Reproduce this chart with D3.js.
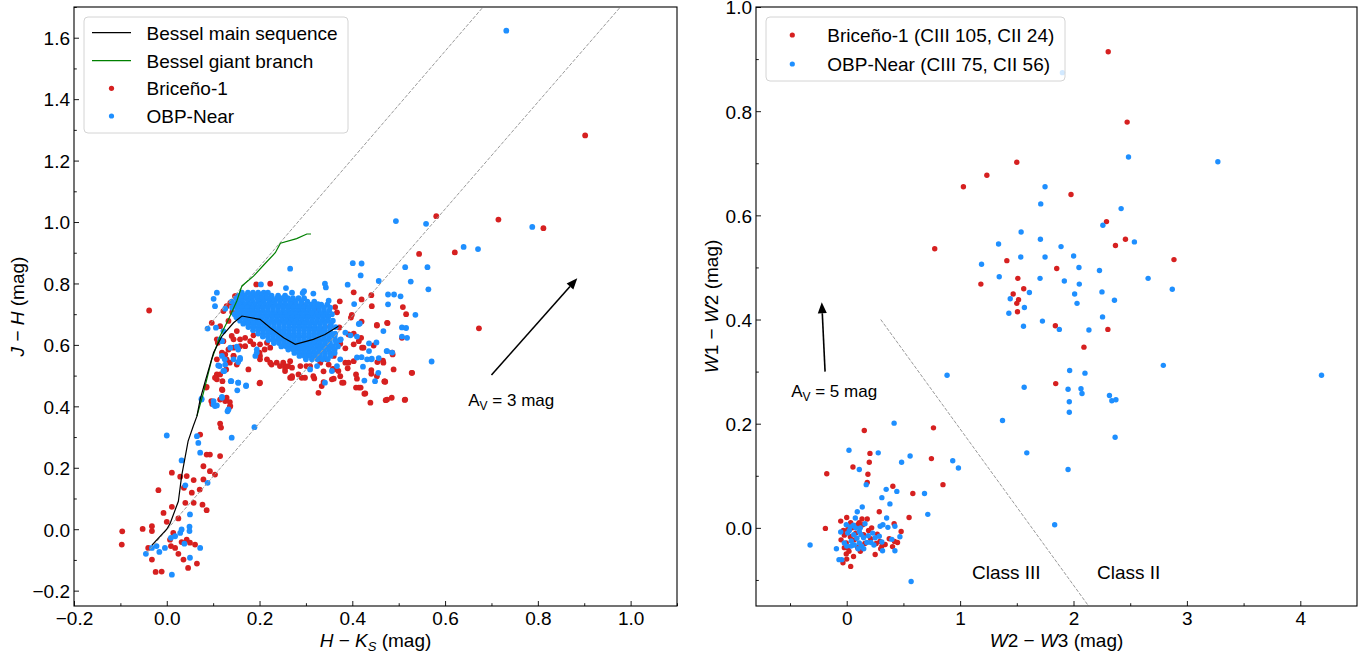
<!DOCTYPE html>
<html><head><meta charset="utf-8">
<script src="https://cdn.jsdelivr.net/npm/d3@7"></script>
<style>
body{margin:0;background:#fff;}
svg text{font-family:"Liberation Sans",Arial,Helvetica,sans-serif;fill:#000;}
</style></head>
<body><svg id="c" width="1371" height="655"></svg>
<script>
// ---------------- DATA ----------------
const leftXTicks = [-0.2,0.0,0.2,0.4,0.6,0.8,1.0];
const leftYTicks = [-0.2,0.0,0.2,0.4,0.6,0.8,1.0,1.2,1.4,1.6];
const rightXTicks = [0,1,2,3,4];
const rightYTicks = [0.0,0.2,0.4,0.6,0.8,1.0];

const besselMS = [[-0.032,-0.052],[0.0,0.0],[0.007,0.018],[0.025,0.091],[0.032,0.173],[0.046,0.287],[0.057,0.335],[0.065,0.368],[0.072,0.423],[0.083,0.482],[0.101,0.575],[0.119,0.629],[0.144,0.672],[0.162,0.694],[0.201,0.683],[0.223,0.656],[0.252,0.623],[0.277,0.602],[0.316,0.618],[0.341,0.634],[0.370,0.661]];
const besselGiant = [[0.065,0.368],[0.079,0.444],[0.097,0.553],[0.115,0.629],[0.133,0.683],[0.151,0.743],[0.162,0.792],[0.187,0.824],[0.209,0.860],[0.234,0.900],[0.245,0.931],[0.280,0.946],[0.302,0.961],[0.311,0.961]];
const reddeningLines = [[[0.082,0.648],[0.682,1.7]],[[-0.043,-0.077],[0.978,1.7]]];
const classLine = [[0.3,0.4],[2.133,-0.15]];
const arrowLeft = [[0.700,0.502],[0.885,0.817]];
const arrowRight = [[-0.191,0.300],[-0.220,0.433]];

// Briceño-1, J-H vs H-Ks
const bricenoJHK = [[-0.096,-0.007],[-0.097,-0.050],[-0.052,0.001],[-0.032,0.010],[-0.032,-0.006],[-0.040,-0.061],[-0.032,-0.099],[-0.024,-0.139],[-0.011,-0.138],[-0.018,0.127],[-0.007,0.053],[0.0,0.024],[0.011,0.184],[0.011,0.073],[0.029,0.171],[0.025,0.035],[0.007,-0.034],[0.009,-0.055],[0.025,-0.080],[0.036,-0.099],[0.046,-0.126],[0.065,-0.112],[0.040,0.086],[0.043,0.173],[0.037,0.135],[0.054,0.119],[0.058,0.160],[0.058,0.086],[0.071,0.129],[0.072,0.308],[0.079,0.205],[0.086,0.243],[0.093,0.243],[0.093,0.189],[0.079,0.162],[0.077,0.080],[0.086,0.062],[0.104,0.178],[0.115,0.238],[0.115,0.344],[0.117,0.331],[0.129,0.428],[0.136,0.414],[0.136,0.399],[0.096,0.417],[0.085,0.461],[0.108,0.504],[0.108,0.488],[0.119,0.455],[0.120,0.482],[0.128,0.520],[0.136,0.542],[0.144,0.564],[0.176,0.520],[0.201,0.477],[0.032,-0.042],[0.043,-0.034],[0.050,-0.044],[0.061,-0.050],[0.014,-0.012],[0.018,-0.061],
[0.291,0.493],[0.318,0.491],[0.327,0.444],[0.334,0.466],[0.356,0.488],[0.381,0.477],[0.410,0.490],[0.414,0.461],[0.428,0.442],[0.439,0.412],[0.453,0.498],[0.471,0.480],[0.475,0.422],[0.485,0.428],[0.489,0.520],[0.514,0.422],[0.528,0.509],[0.467,0.542],[0.487,0.569],[0.446,0.598],[0.453,0.663],[0.475,0.672],[0.403,0.602],[0.421,0.591],[0.392,0.634],[0.403,0.547],[0.385,0.542],[0.360,0.520],[0.374,0.498],[0.266,0.493],[0.255,0.515],[0.255,0.531],[0.201,0.564],
[0.581,1.019],[0.715,1.008],[0.812,0.980],[0.544,0.896],[0.621,0.901],[0.902,1.282],[0.673,0.654],[0.509,0.723],[0.516,0.700],[0.476,0.671],[0.507,0.623],[0.486,0.575],[0.466,0.549],[0.529,0.509],[0.469,0.481],[0.472,0.420],[0.513,0.421],
[0.403,0.771],[0.441,0.762],[0.373,0.742],[0.420,0.748],[0.442,0.726],[0.295,0.726],[0.273,0.733],[0.363,0.723],[0.367,0.706],[0.399,0.698],[0.397,0.689],[0.324,0.719],[0.420,0.676],[0.453,0.665],[0.372,0.657],[0.352,0.659],[0.338,0.651],[0.403,0.637],[0.419,0.623],[0.414,0.612],[0.374,0.604],[0.424,0.591],[0.385,0.589],[0.392,0.542],[0.390,0.524],[0.454,0.544],[0.345,0.553],[0.358,0.522],[0.338,0.514],[0.370,0.515],[0.441,0.518],[0.441,0.506],[0.408,0.504],[0.470,0.481],[0.378,0.477],[0.360,0.490],[0.338,0.479],[0.408,0.461],[0.418,0.461],[0.426,0.441],[0.298,0.493],[0.316,0.498],[0.284,0.504],[0.270,0.498],[0.301,0.531],
[0.193,0.797],[0.223,0.799],[0.149,0.759],[0.137,0.737],[0.129,0.726],[0.141,0.707],[0.122,0.710],[0.097,0.672],[0.115,0.661],[0.133,0.678],[0.108,0.618],[0.122,0.612],[0.140,0.629],[0.151,0.645],[0.158,0.618],[0.133,0.585],[0.144,0.591],[0.126,0.569],[0.144,0.564],[0.108,0.553],[0.151,0.536],[0.169,0.596],[0.180,0.612],[0.187,0.631],[0.201,0.602],[0.200,0.575],[0.216,0.607],[0.211,0.585],[0.223,0.591],[0.201,0.553],[0.216,0.553],[0.237,0.542],[0.226,0.536],[0.244,0.531],[0.266,0.547],[0.270,0.526],[0.255,0.526],[0.288,0.531],[0.115,0.504],[0.120,0.453],[0.086,0.463],[0.104,0.493],[0.098,0.408],[0.137,0.401],[0.115,0.422],[0.126,0.417],[0.200,0.475],[-0.038,0.712],[0.147,0.759],[0.273,0.732],[0.223,0.542],[0.251,0.542],[0.262,0.531],[0.270,0.493],[0.309,0.531],[0.331,0.542],[0.349,0.536],[0.360,0.564],[0.187,0.602],[0.158,0.596],[0.169,0.623],[0.129,0.553],[0.119,0.575],[0.110,0.607],[0.144,0.618]];

// OBP-Near, J-H vs H-Ks (scattered stars)
const obpJHK = [[0.732,1.623],[0.788,0.984],[0.640,0.919],[0.671,0.912],[0.494,1.003],[0.559,0.994],[0.514,0.853],[0.562,0.853],[0.526,0.806],[0.564,0.781],[0.477,0.764],[0.490,0.764],[0.504,0.758],[0.477,0.732],[0.536,0.698],[0.467,0.645],[0.507,0.657],[0.516,0.655],[0.475,0.580],[0.571,0.546],[0.401,0.866],[0.420,0.865],[0.418,0.826],[0.457,0.808],[0.341,0.799],[0.343,0.787],[0.390,0.796],[0.296,0.775],[0.293,0.769],[0.316,0.767],[0.270,0.770],[0.349,0.744],[0.326,0.733],[0.312,0.705],[0.404,0.733],[0.414,0.668],[0.385,0.640],[0.396,0.631],[0.357,0.634],[0.410,0.627],[0.436,0.605],[0.452,0.608],[0.375,0.618],[0.436,0.580],[0.474,0.580],[0.486,0.575],[0.410,0.559],[0.420,0.560],[0.442,0.555],[0.457,0.557],[0.374,0.553],[0.423,0.529],[0.426,0.484],[0.449,0.482],[0.456,0.509],[0.309,0.520],[0.324,0.531],[0.507,0.627],[0.518,0.623],[0.441,0.553],[0.432,0.553],[0.341,0.477],[0.416,0.670],[0.367,0.531],[0.356,0.515],
[0.266,0.848],[0.257,0.785],[0.203,0.797],[0.108,0.770],[0.101,0.750],[0.104,0.726],[0.126,0.718],[0.088,0.653],[0.106,0.656],[0.122,0.645],[0.119,0.612],[0.151,0.594],[0.119,0.564],[0.126,0.536],[0.114,0.531],[0.144,0.553],[0.158,0.553],[0.191,0.564],[0.194,0.585],[0.171,0.468],[0.154,0.477],[0.138,0.482],[0.124,0.515],[0.075,0.425],[0.101,0.417],[0.104,0.401],[0.119,0.431],[0.131,0.384],[0.115,0.618],[0.137,0.591],[0.154,0.585],[0.158,0.558],[0.194,0.575],
[0.0,0.305],[0.032,0.224],[0.040,0.143],[0.050,0.048],[0.065,0.303],[0.068,0.281],[0.072,0.249],[0.075,0.422],[0.088,0.151],[0.072,-0.061],[0.049,0.008],[0.049,-0.006],[0.032,-0.001],[0.029,-0.012],[0.018,-0.023],[-0.004,-0.061],[-0.016,-0.074],[-0.022,-0.055],[-0.032,-0.061],[-0.045,-0.080],[0.011,-0.148],[0.050,-0.093],[0.009,-0.028],[0.038,-0.047],[0.101,0.406],[0.108,0.403],[0.119,0.428],[0.133,0.390],[0.139,0.482],[0.154,0.477],[0.152,0.452],[0.171,0.466],[0.140,0.298],[0.189,0.332],[0.111,0.533],[0.122,0.515],[0.125,0.553],[0.154,0.544]];

// OBP-Near dense core, read row by row: J-H value of the row and H-Ks values along it
const obpCoreJH = [0.770,0.760,0.752,0.741,0.731,0.721,0.711,0.700,0.690,0.679,0.669,0.658,0.648,0.637,0.627,0.616,0.606,0.595,0.585,0.574,0.564,0.553];
const obpCoreHK = [
 [0.162,0.175,0.186,0.197,0.209,0.218],
 [0.156,0.168,0.180,0.191,0.203,0.214,0.226,0.240,0.255],
 [0.150,0.161,0.172,0.183,0.195,0.205,0.216,0.227,0.238,0.249,0.261,0.272,0.284,0.296],
 [0.140,0.152,0.163,0.175,0.186,0.198,0.209,0.221,0.232,0.244,0.255,0.267,0.278,0.290,0.303,0.318],
 [0.146,0.157,0.168,0.179,0.190,0.201,0.212,0.223,0.234,0.245,0.256,0.267,0.278,0.289,0.300,0.311,0.322,0.333,0.346],
 [0.141,0.152,0.163,0.174,0.185,0.196,0.207,0.218,0.229,0.240,0.251,0.262,0.273,0.284,0.295,0.306,0.317,0.328,0.339,0.352],
 [0.152,0.163,0.174,0.185,0.196,0.207,0.218,0.229,0.240,0.251,0.262,0.273,0.284,0.295,0.306,0.317,0.328,0.339,0.350],
 [0.146,0.157,0.168,0.179,0.190,0.201,0.212,0.223,0.234,0.245,0.256,0.267,0.278,0.289,0.300,0.311,0.322,0.333,0.344,0.356],
 [0.150,0.161,0.172,0.183,0.194,0.205,0.216,0.227,0.238,0.249,0.260,0.271,0.282,0.293,0.304,0.315,0.326,0.337,0.348],
 [0.158,0.170,0.181,0.192,0.203,0.214,0.225,0.236,0.247,0.258,0.269,0.280,0.291,0.302,0.313,0.324,0.335,0.346,0.358],
 [0.165,0.176,0.187,0.198,0.209,0.220,0.231,0.242,0.253,0.264,0.275,0.286,0.297,0.308,0.319,0.330,0.341,0.354],
 [0.176,0.187,0.198,0.209,0.220,0.231,0.242,0.253,0.264,0.275,0.286,0.297,0.308,0.319,0.330,0.341,0.352,0.364],
 [0.186,0.197,0.208,0.219,0.230,0.241,0.252,0.263,0.274,0.285,0.296,0.307,0.318,0.329,0.340,0.352],
 [0.197,0.208,0.219,0.230,0.241,0.252,0.263,0.274,0.285,0.296,0.307,0.318,0.329,0.340,0.351,0.363],
 [0.207,0.218,0.229,0.240,0.251,0.262,0.273,0.284,0.295,0.306,0.317,0.328,0.339,0.350,0.362],
 [0.219,0.230,0.241,0.252,0.263,0.274,0.285,0.296,0.307,0.318,0.329,0.340,0.351,0.363,0.374],
 [0.231,0.242,0.253,0.264,0.275,0.286,0.297,0.308,0.319,0.330,0.341,0.352,0.365],
 [0.247,0.258,0.269,0.280,0.291,0.302,0.313,0.324,0.335,0.346,0.357,0.369],
 [0.262,0.273,0.284,0.295,0.306,0.317,0.328,0.339,0.350,0.362],
 [0.275,0.286,0.297,0.308,0.319,0.330,0.341,0.352,0.362],
 [0.286,0.297,0.308,0.319,0.330,0.341,0.353],
 [0.300,0.313,0.325,0.336,0.347]];

// WISE colours: [W2-W3, W1-W2]
const bricenoWISE = [[1.500,0.702],[1.236,0.677],[1.029,0.655],[1.978,0.640],[0.776,0.536],[1.412,0.513],[1.852,0.498],[1.509,0.479],[1.183,0.468],[1.561,0.459],[1.468,0.449],[1.515,0.438],[1.500,0.431],[1.506,0.415],[1.840,0.388],[1.843,0.277],[2.306,0.914],[2.473,0.779],[2.291,0.588],[2.458,0.554],[2.370,0.542],[2.886,0.515],[2.303,0.381],[2.092,0.347],[0.765,0.192],
[0.155,0.187],[0.205,0.143],[0.747,0.133],[0.199,0.126],[-0.176,0.104],[0.055,0.117],[0.187,0.103],[0.181,0.087],[0.849,0.083],[0.407,0.080],[0.583,0.066],[0.287,0.031],[0.550,0.020],[0.0,0.020],[0.135,0.017],[0.181,0.017],[-0.053,0.013],[0.035,0.010],[-0.188,-0.001],[0.418,0.008],[0.480,-0.007],[-0.021,-0.014],[0.097,0.006],[0.149,-0.013],[0.193,-0.005],[0.269,-0.012],[0.211,-0.021],[0.293,-0.026],[0.339,-0.032],[0.310,-0.035],[0.375,-0.021],[0.448,-0.028],[0.422,-0.026],[0.251,-0.051],[0.035,-0.074],[-0.033,-0.067],[-0.004,-0.050],[-0.021,-0.038],[-0.050,-0.023],[-0.004,-0.029],[0.009,-0.038],[0.097,-0.038],[0.067,-0.023],[0.032,-0.017],[0.009,-0.003],[0.141,0.006],[0.404,-0.036],[0.02,-0.045],[0.06,-0.055],[0.12,-0.045],[0.08,-0.01],[-0.03,-0.005],[0.16,-0.03],[0.05,0.0],[0.11,0.01],[0.22,0.0],[0.26,-0.03],[0.30,-0.04],[0.0,-0.06]];
const obpWISE = [[1.749,0.655],[1.711,0.622],[1.538,0.568],[1.708,0.554],[1.339,0.545],[1.890,0.540],[2.001,0.522],[1.535,0.520],[1.749,0.520],[1.189,0.506],[2.048,0.500],[1.345,0.482],[1.705,0.479],[1.919,0.474],[2.051,0.468],[1.611,0.452],[2.010,0.449],[1.442,0.440],[2.031,0.431],[1.567,0.423],[1.430,0.412],[1.726,0.397],[1.559,0.387],[1.875,0.381],[1.966,0.302],[0.885,0.293],[1.565,0.270],[1.952,0.266],[2.485,0.712],[3.273,0.703],[2.420,0.613],[2.259,0.581],[2.537,0.549],[2.229,0.494],[2.658,0.479],[2.871,0.458],[2.251,0.453],[2.361,0.437],[2.256,0.405],[2.136,0.380],[2.792,0.312],[2.101,0.297],[2.066,0.267],[2.075,0.258],[1.963,0.242],[1.963,0.222],[2.317,0.254],[2.338,0.244],[2.374,0.246],[2.367,0.174],[4.187,0.293],[1.902,0.874],[0.418,0.201],[1.374,0.206],[1.834,0.006],[1.952,0.112],[1.588,0.144],
[0.020,0.149],[0.278,0.144],[0.559,0.138],[0.484,0.126],[0.935,0.129],[0.111,0.112],[0.985,0.115],[0.172,0.083],[0.348,0.074],[0.442,0.070],[0.686,0.066],[0.310,0.058],[0.381,0.046],[0.137,0.040],[0.093,0.031],[0.715,0.026],[0.076,0.019],[0.352,0.019],[-0.004,0.006],[0.319,0.006],[0.425,0.003],[0.295,0.003],[0.363,0.001],[-0.053,-0.008],[0.023,-0.005],[0.079,0.0],[0.111,-0.007],[0.149,-0.019],[0.229,-0.010],[0.251,-0.019],[0.178,-0.028],[0.240,-0.033],[0.310,-0.027],[0.316,-0.044],[0.398,-0.022],[0.469,-0.017],[0.425,-0.044],[-0.068,-0.061],[-0.044,-0.061],[-0.091,-0.040],[-0.323,-0.033],[0.568,-0.103],[0.053,-0.033],[0.038,-0.035],[0.067,-0.033],[0.111,-0.029],[0.132,-0.035],[-0.021,-0.029],[0.062,-0.013],[0.009,-0.010],[0.032,0.002],[0.126,-0.013],[0.161,0.008],[0.214,-0.028],[0.287,-0.016],[0.09,-0.02],[0.04,-0.025],[0.10,-0.04],[0.15,-0.04],[0.06,0.005],[0.19,-0.015],[0.0,-0.035],[0.12,0.0]];

const leftLegend = ["Bessel main sequence","Bessel giant branch","Briceño-1","OBP-Near"];
const rightLegend = ["Briceño-1 (CIII 105, CII 24)","OBP-Near (CIII 75, CII 56)"];

// ---------------- STYLE ----------------
const RED = "#d62020", BLUE = "#1e8fff";
const FS = 19;
const svg = d3.select("#c");
const fmt1 = d3.format(".1f"), fmt0 = d3.format("d");

function makeAxes(o){
  const x = d3.scaleLinear().domain(o.xd).range(o.xr);
  const y = d3.scaleLinear().domain(o.yd).range(o.yr);
  const g = svg.append("g");
  const clipId = "clip"+o.id;
  svg.append("clipPath").attr("id",clipId).append("rect")
    .attr("x",o.xr[0]).attr("y",o.yr[1]).attr("width",o.xr[1]-o.xr[0]).attr("height",o.yr[0]-o.yr[1]);
  const plot = g.append("g").attr("clip-path",`url(#${clipId})`);
  const ax = g.append("g").attr("transform",`translate(0,${o.yr[0]})`)
    .call(d3.axisBottom(x).tickValues(o.xt).tickFormat(o.xf).tickSize(-5).tickPadding(5.5));
  const axm = g.append("g").attr("transform",`translate(0,${o.yr[0]})`)
    .call(d3.axisBottom(x).tickValues(o.xm).tickFormat("").tickSize(-2.8));
  const ay = g.append("g").attr("transform",`translate(${o.xr[0]},0)`)
    .call(d3.axisLeft(y).tickValues(o.yt).tickFormat(o.yf).tickSize(-5).tickPadding(4));
  const aym = g.append("g").attr("transform",`translate(${o.xr[0]},0)`)
    .call(d3.axisLeft(y).tickValues(o.ym).tickFormat("").tickSize(-2.8));
  [ax,axm,ay,aym].forEach(a=>{a.select(".domain").remove();
    a.selectAll("text").attr("font-size",FS).attr("font-family",'"Liberation Sans",Arial,sans-serif').attr("fill","#000");
    a.selectAll("line").attr("stroke","#000").attr("stroke-width",0.9);});
  ay.selectAll("text").attr("dy","0.36em");
  g.append("rect").attr("x",o.xr[0]).attr("y",o.yr[1])
    .attr("width",o.xr[1]-o.xr[0]).attr("height",o.yr[0]-o.yr[1])
    .attr("fill","none").attr("stroke","#000").attr("stroke-width",1.1);
  return {x,y,g,plot};
}

function dots(sel, data, x, y, color, r){
  sel.append("g").selectAll("circle").data(data).join("circle")
    .attr("cx",d=>x(d[0])).attr("cy",d=>y(d[1])).attr("r",r).attr("fill",color);
}
function arrow(sel, pts, x, y){
  const [x0,y0] = [x(pts[0][0]), y(pts[0][1])];
  const [x1,y1] = [x(pts[1][0]), y(pts[1][1])];
  const a = Math.atan2(y1-y0, x1-x0), L=11, W=4.5;
  const bx = x1 - L*Math.cos(a), by = y1 - L*Math.sin(a);
  sel.append("line").attr("x1",x0).attr("y1",y0).attr("x2",bx).attr("y2",by)
    .attr("stroke","#000").attr("stroke-width",1.6);
  sel.append("path").attr("d",`M${x1},${y1}L${bx - W*Math.sin(a)},${by + W*Math.cos(a)}L${bx + W*Math.sin(a)},${by - W*Math.cos(a)}Z`).attr("fill","#000");
}
function legendBox(sel, x0, y0, w, h){
  sel.append("rect").attr("x",x0).attr("y",y0).attr("width",w).attr("height",h).attr("rx",4)
    .attr("fill","#fff").attr("fill-opacity",0.8).attr("stroke","#d4d4d4").attr("stroke-width",1);
}
function avText(sel, x, y, label){
  const t = sel.append("text").attr("x",x).attr("y",y).attr("font-size",17);
  t.append("tspan").text("A");
  t.append("tspan").attr("font-size",12).attr("dy",4).text("V");
  t.append("tspan").attr("dy",-4).text(label);
}
const DASH = {stroke:"#9a9a9a", w:1.0, dash:"3.6,1.6"};

// ---------------- LEFT PANEL ----------------
const L = makeAxes({id:"L", xd:[-0.2,1.1], xr:[74,677], yd:[-0.25,1.7], yr:[606,7],
  xt:leftXTicks, xm:[-0.1,0.1,0.3,0.5,0.7,0.9,1.1], xf:fmt1,
  yt:leftYTicks, ym:[-0.1,0.1,0.3,0.5,0.7,0.9,1.1,1.3,1.5,1.7], yf:fmt1});
const obpCore = [];
obpCoreJH.forEach((jh,i)=>obpCoreHK[i].forEach(hk=>obpCore.push([hk,jh])));
dots(L.plot, bricenoJHK, L.x, L.y, RED, 2.9);
dots(L.plot, obpCore, L.x, L.y, BLUE, 2.9);
dots(L.plot, obpJHK, L.x, L.y, BLUE, 2.9);
const line = (x,y)=>d3.line().x(d=>x(d[0])).y(d=>y(d[1]));
reddeningLines.forEach(s=>L.plot.append("path").attr("d",line(L.x,L.y)(s))
  .attr("fill","none").attr("stroke",DASH.stroke).attr("stroke-width",DASH.w).attr("stroke-dasharray",DASH.dash));
L.plot.append("path").attr("d",line(L.x,L.y)(besselGiant)).attr("fill","none").attr("stroke","#008000").attr("stroke-width",1.2);
L.plot.append("path").attr("d",line(L.x,L.y)(besselMS)).attr("fill","none").attr("stroke","#000").attr("stroke-width",1.2);
arrow(L.plot, arrowLeft, L.x, L.y);
avText(L.g, L.x(0.650), L.y(0.400), " = 3 mag");
legendBox(L.g, 84, 17, 264, 116);
const lrows = [32.7,60.7,88.3,116];
L.g.append("line").attr("x1",92).attr("x2",131).attr("y1",lrows[0]).attr("y2",lrows[0]).attr("stroke","#000").attr("stroke-width",1.2);
L.g.append("line").attr("x1",92).attr("x2",131).attr("y1",lrows[1]).attr("y2",lrows[1]).attr("stroke","#008000").attr("stroke-width",1.2);
L.g.append("circle").attr("cx",111.5).attr("cy",lrows[2]).attr("r",2.6).attr("fill",RED);
L.g.append("circle").attr("cx",111.5).attr("cy",lrows[3]).attr("r",2.6).attr("fill",BLUE);
leftLegend.forEach((t,i)=>L.g.append("text").attr("x",146.5).attr("y",lrows[i]+6.8).attr("font-size",FS).text(t));
const xl = L.g.append("text").attr("x",(74+677)/2).attr("y",647).attr("text-anchor","middle").attr("font-size",FS);
xl.append("tspan").attr("font-style","italic").text("H");
xl.append("tspan").text(" − ");
xl.append("tspan").attr("font-style","italic").text("K");
xl.append("tspan").attr("font-style","italic").attr("font-size",13).attr("dy",4).text("S");
xl.append("tspan").attr("dy",-4).text(" (mag)");
const yl = L.g.append("text").attr("transform",`translate(24,${(7+606)/2}) rotate(-90)`).attr("text-anchor","middle").attr("font-size",FS);
yl.append("tspan").attr("font-style","italic").text("J");
yl.append("tspan").text(" − ");
yl.append("tspan").attr("font-style","italic").text("H");
yl.append("tspan").text(" (mag)");

// ---------------- RIGHT PANEL ----------------
const R = makeAxes({id:"R", xd:[-0.8,4.5], xr:[756,1357], yd:[-0.15,1.0], yr:[606,7],
  xt:rightXTicks, xm:[-0.5,0.5,1.5,2.5,3.5], xf:fmt0,
  yt:rightYTicks, ym:[-0.1,0.1,0.3,0.5,0.7,0.9], yf:fmt1});
dots(R.plot, bricenoWISE, R.x, R.y, RED, 2.7);
dots(R.plot, obpWISE, R.x, R.y, BLUE, 2.7);
R.plot.append("path").attr("d",line(R.x,R.y)(classLine)).attr("fill","none").attr("stroke",DASH.stroke).attr("stroke-width",DASH.w).attr("stroke-dasharray",DASH.dash);
arrow(R.plot, arrowRight, R.x, R.y);
avText(R.g, R.x(-0.490), R.y(0.251), " = 5 mag");
R.g.append("text").attr("x",R.x(1.105)).attr("y",R.y(-0.099)).attr("font-size",FS).text("Class III");
R.g.append("text").attr("x",R.x(2.207)).attr("y",R.y(-0.099)).attr("font-size",FS).text("Class II");
legendBox(R.g, 766, 17, 299, 64);
const rrows = [35,64];
R.g.append("circle").attr("cx",792.3).attr("cy",rrows[0]).attr("r",2.6).attr("fill",RED);
R.g.append("circle").attr("cx",792.3).attr("cy",rrows[1]).attr("r",2.6).attr("fill",BLUE);
rightLegend.forEach((t,i)=>R.g.append("text").attr("x",827.3).attr("y",rrows[i]+6.8).attr("font-size",FS).text(t));
const xr = R.g.append("text").attr("x",(756+1357)/2).attr("y",647).attr("text-anchor","middle").attr("font-size",FS);
xr.append("tspan").attr("font-style","italic").text("W");
xr.append("tspan").text("2 − ");
xr.append("tspan").attr("font-style","italic").text("W");
xr.append("tspan").text("3 (mag)");
const yr = R.g.append("text").attr("transform",`translate(718,${(7+606)/2}) rotate(-90)`).attr("text-anchor","middle").attr("font-size",FS);
yr.append("tspan").attr("font-style","italic").text("W");
yr.append("tspan").text("1 − ");
yr.append("tspan").attr("font-style","italic").text("W");
yr.append("tspan").text("2 (mag)");
</script></body></html>
